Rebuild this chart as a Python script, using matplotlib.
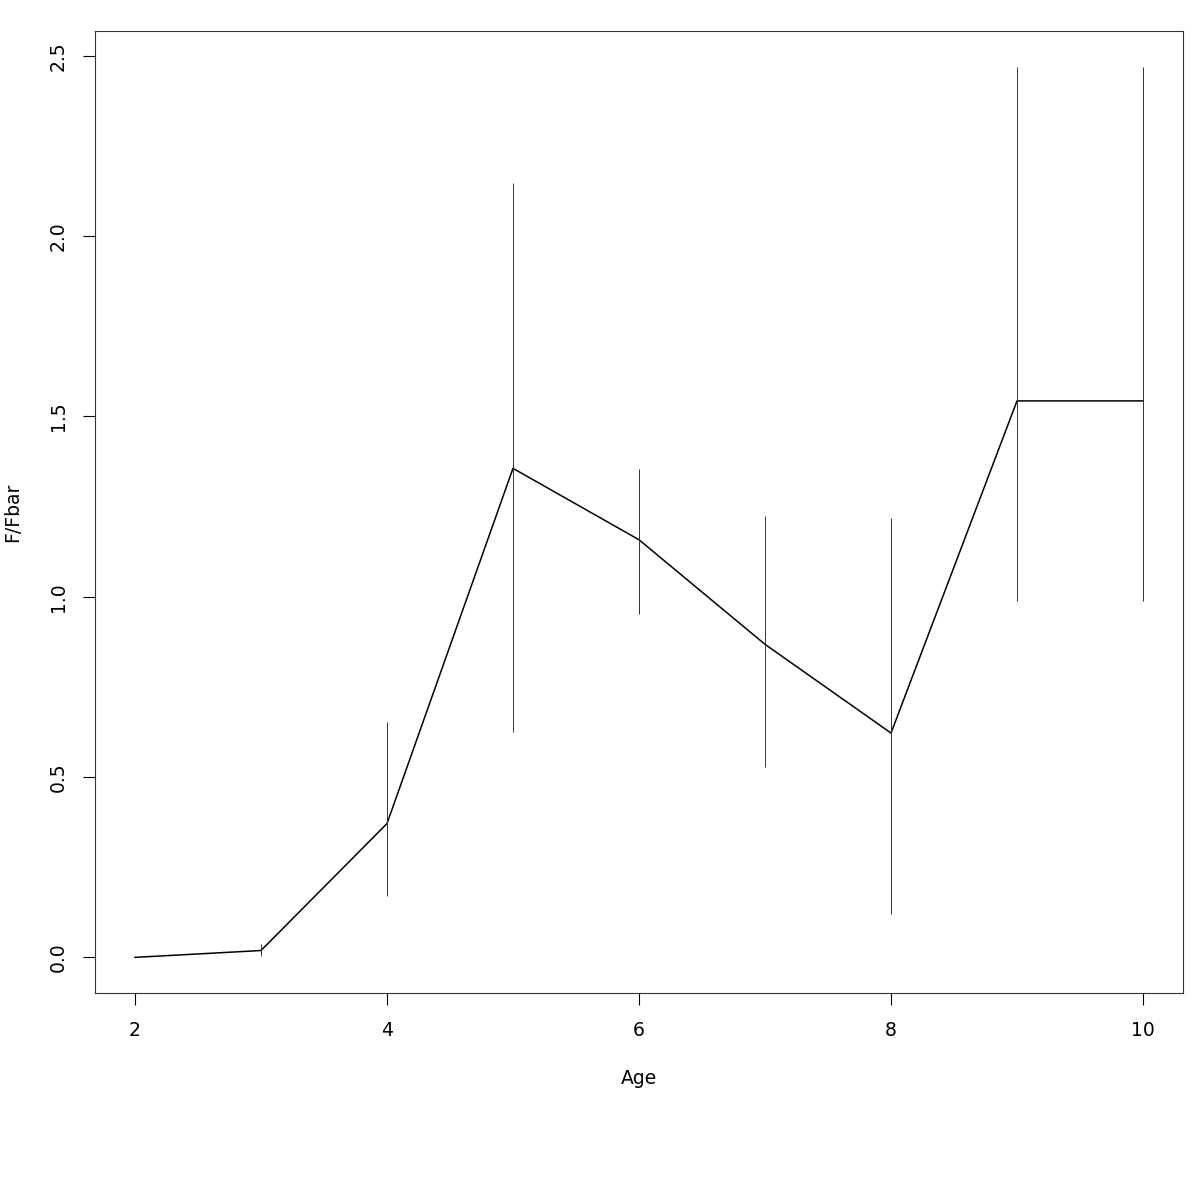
import matplotlib
matplotlib.use("Agg")
import matplotlib.pyplot as plt

ages = [2, 3, 4, 5, 6, 7, 8, 9, 10]
f_fbar = [0.0, 0.019, 0.371, 1.356, 1.158, 0.868, 0.622, 1.543, 1.543]
lower = [0.0, 0.003, 0.169, 0.624, 0.953, 0.529, 0.119, 0.989, 0.989]
upper = [0.0, 0.036, 0.654, 2.148, 1.353, 1.225, 1.217, 2.470, 2.470]

fig = plt.figure(figsize=(12, 12), dpi=100)
ax = fig.add_axes([0.0792, 0.1725, 0.9066, 0.8017])

ax.plot(ages, f_fbar, color="black", lw=1.1)
ax.vlines(ages[1:], lower[1:], upper[1:], color="#333333", lw=0.7)

ax.set_xlim(1.683, 10.317)
ax.set_ylim(-0.0988, 2.5688)
ax.set_xticks([2, 4, 6, 8, 10])
ax.set_yticks([0.0, 0.5, 1.0, 1.5, 2.0, 2.5])
ax.set_yticklabels(["0.0", "0.5", "1.0", "1.5", "2.0", "2.5"], rotation=90, va="center")

ax.tick_params(axis="x", length=8.6, width=0.8, labelsize=13.5, pad=11.5, top=False)
ax.tick_params(axis="y", length=8.6, width=0.8, labelsize=13.5, pad=11, right=False)
for s in ax.spines.values():
    s.set_linewidth(0.8)
    s.set_color("#333333")

ax.set_xlabel("Age", fontsize=13.5, labelpad=21)
ax.set_ylabel("F/Fbar", fontsize=13.5, labelpad=19)

fig.savefig("out.png", dpi=100)
